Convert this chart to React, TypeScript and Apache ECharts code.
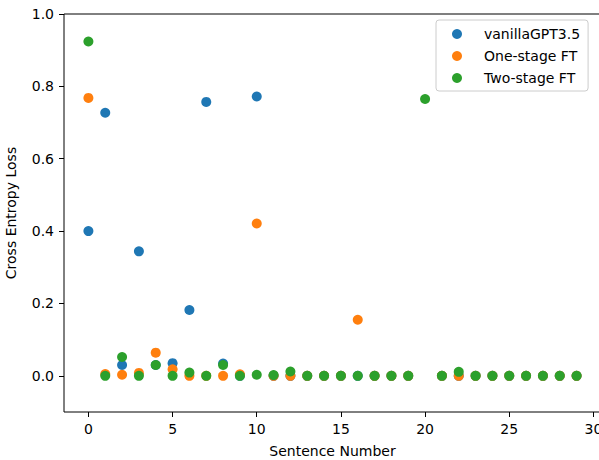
import React, { useEffect, useRef } from "react";
import * as echarts from "echarts";

const sentenceIdx: number[] = Array.from({ length: 30 }, (_, i) => i);

const vanillaLoss: (number | null)[] = [
  0.4, 0.727, 0.03, 0.344, 0.03, 0.035, 0.182, 0.757, 0.034, 0.0,
  0.772, 0.0, 0.0, 0.0, 0.0, 0.0, 0.0, 0.0, 0.0, 0.0,
  null, 0.0, 0.0, 0.0, 0.0, 0.0, 0.0, 0.0, 0.0, 0.0,
];
const oneStageLoss: (number | null)[] = [
  0.768, 0.005, 0.003, 0.008, 0.064, 0.018, 0.0, 0.0, 0.0, 0.004,
  0.421, 0.0, 0.0, 0.0, 0.0, 0.0, 0.155, 0.0, 0.0, 0.0,
  null, 0.0, 0.0, 0.0, 0.0, 0.0, 0.0, 0.0, 0.0, 0.0,
];
const twoStageLoss: (number | null)[] = [
  0.924, 0.0, 0.052, 0.0, 0.03, 0.0, 0.009, 0.0, 0.03, 0.0,
  0.003, 0.002, 0.012, 0.0, 0.0, 0.0, 0.0, 0.0, 0.0, 0.0,
  0.765, 0.0, 0.011, 0.0, 0.0, 0.0, 0.0, 0.0, 0.0, 0.0,
];

const seriesNames: string[] = ["vanillaGPT3.5", "One-stage FT", "Two-stage FT"];
const seriesColors: string[] = ["#1f77b4", "#ff7f0e", "#2ca02c"];
const xTicks: number[] = [0, 5, 10, 15, 20, 25, 30];
const yTicks: number[] = [0, 0.2, 0.4, 0.6, 0.8, 1.0];

const FONT = "DejaVu Sans";

function pairs(vals: (number | null)[]) {
  const out: [number, number][] = [];
  vals.forEach((v, i) => {
    if (v !== null) out.push([sentenceIdx[i], v]);
  });
  return out;
}

export default function App() {
  const ref = useRef<HTMLDivElement>(null);
  useEffect(() => {
    if (!ref.current) return;
    const chart = echarts.init(ref.current, null, { renderer: "svg" });
    const allVals = [vanillaLoss, oneStageLoss, twoStageLoss];
    chart.setOption({
      animation: false,
      backgroundColor: "#fff",
      textStyle: { fontFamily: FONT },
      grid: {
        left: 64,
        top: 14,
        width: 537,
        height: 398,
        outerBoundsMode: "none",
        containLabel: false,
        show: true,
        borderColor: "#000",
        borderWidth: 1,
        backgroundColor: "transparent",
      },
      legend: {
        orient: "vertical",
        left: 436,
        top: 20,
        padding: [7, 8, 6, 16],
        itemWidth: 10,
        itemHeight: 10,
        itemGap: 8,
        icon: "circle",
        backgroundColor: "rgba(255,255,255,0.8)",
        borderColor: "#cccccc",
        borderWidth: 1,
        borderRadius: 3,
        textStyle: {
          fontFamily: FONT,
          fontSize: 14,
          color: "#000",
          padding: [0, 0, 0, 17],
        },
        data: seriesNames,
      },
      xAxis: {
        type: "value",
        min: -1.45,
        max: 30.45,
        name: "Sentence Number",
        nameLocation: "middle",
        nameGap: 32,
        nameTextStyle: { fontFamily: FONT, fontSize: 14, color: "#000" },
        axisLine: { show: false, onZero: false },
        axisTick: {
          show: true,
          length: 5,
          customValues: xTicks,
          lineStyle: { color: "#000" },
        },
        axisLabel: {
          customValues: xTicks,
          margin: 10,
          fontFamily: FONT,
          fontSize: 14,
          color: "#000",
          formatter: (v: number) => String(v),
        },
        splitLine: { show: false },
      },
      yAxis: {
        type: "value",
        min: -0.1,
        max: 1.0,
        name: "Cross Entropy Loss",
        nameLocation: "middle",
        nameGap: 46,
        nameRotate: 90,
        nameTextStyle: { fontFamily: FONT, fontSize: 14, color: "#000" },
        axisLine: { show: false, onZero: false },
        axisTick: {
          show: true,
          length: 5,
          customValues: yTicks,
          lineStyle: { color: "#000" },
        },
        axisLabel: {
          customValues: yTicks,
          margin: 10,
          fontFamily: FONT,
          fontSize: 14,
          color: "#000",
          formatter: (v: number) => v.toFixed(1),
        },
        splitLine: { show: false },
      },
      series: seriesNames.map((name, k) => ({
        name,
        type: "scatter",
        symbol: "circle",
        symbolSize: 10,
        itemStyle: { color: seriesColors[k], opacity: 1 },
        data: pairs(allVals[k]),
        z: 2 + k,
      })),
    });
    return () => chart.dispose();
  }, []);
  return (
    <div
      ref={ref}
      style={{ position: "fixed", left: 0, top: 0, width: 599, height: 460 }}
    />
  );
}
